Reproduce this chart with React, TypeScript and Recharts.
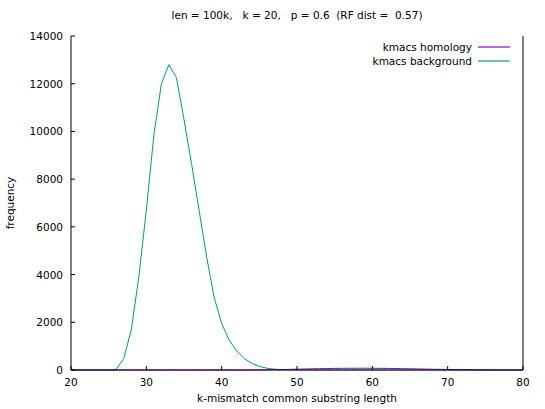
import React from 'react';
import { LineChart, Line, XAxis, YAxis } from 'recharts';

const lengths = [
  20, 21, 22, 23, 24, 25, 26, 27, 28, 29, 30, 31, 32, 33, 34, 35, 36, 37, 38, 39, 40,
  41, 42, 43, 44, 45, 46, 47, 48, 49, 50, 51, 52, 53, 54, 55, 56, 57, 58, 59, 60,
  61, 62, 63, 64, 65, 66, 67, 68, 69, 70, 71, 72, 73, 74, 75, 76, 77, 78, 79, 80,
];

const homology = [
  0, 0, 0, 0, 0, 0, 0, 0, 0, 0, 0, 0, 0, 0, 0, 0, 0, 0, 0, 0, 0,
  0, 0, 0, 0, 2, 5, 10, 18, 26, 34, 42, 50, 56, 62, 66, 70, 72, 73, 73, 72,
  70, 66, 62, 57, 51, 45, 39, 33, 27, 22, 17, 13, 10, 7, 5, 3, 2, 1, 0, 0,
];

const background = [
  0, 0, 0, 0, 0, 0, 30, 480, 1680, 3900, 6700, 9850, 12000, 12800, 12250, 10500, 8650, 6700, 4750, 3050, 1950,
  1250, 800, 480, 280, 150, 75, 35, 15, 8, 5, 4, 3, 3, 2, 2, 2, 1, 1, 1, 1,
  1, 1, 1, 1, 0, 0, 0, 0, 0, 0, 0, 0, 0, 0, 0, 0, 0, 0, 0, 0,
];

const xTicks = [20, 30, 40, 50, 60, 70, 80];
const yTicks = [0, 2000, 4000, 6000, 8000, 10000, 12000, 14000];

const title = 'len = 100k,   k = 20,   p = 0.6  (RF dist =  0.57)';
const xLabel = 'k-mismatch common substring length';
const yLabel = 'frequency';

const seriesNames = { homology: 'kmacs homology', background: 'kmacs background' };
const colors = { homology: '#9400d3', background: '#009e73' };

const data = lengths.map((x, i) => ({ x, homology: homology[i], background: background[i] }));

const FONT = '"DejaVu Sans", sans-serif';
const FS = 10.5;
const TICK = 4;

const BottomTick = (props: any) => {
  const { x, y, payload } = props;
  return (
    <g>
      <line x1={x} x2={x} y1={y} y2={y - TICK} stroke="#000" strokeWidth={1} />
      <text x={x} y={y + 12} textAnchor="middle" dominantBaseline="central" fontFamily={FONT} fontSize={FS} fill="#000">
        {payload.value}
      </text>
    </g>
  );
};

const LeftTick = (props: any) => {
  const { x, y, payload } = props;
  return (
    <g>
      <line x1={x} x2={x + TICK} y1={y} y2={y} stroke="#000" strokeWidth={1} />
      <text x={x - 8} y={y} textAnchor="end" dominantBaseline="central" fontFamily={FONT} fontSize={FS} fill="#000">
        {payload.value}
      </text>
    </g>
  );
};

const TopTick = (props: any) => {
  const { x, y } = props;
  return <line x1={x} x2={x} y1={y} y2={y + TICK} stroke="#000" strokeWidth={1} />;
};

const RightTick = (props: any) => {
  const { x, y } = props;
  return <line x1={x} x2={x - TICK} y1={y} y2={y} stroke="#000" strokeWidth={1} />;
};

const textStyle: React.CSSProperties = {
  position: 'absolute',
  fontFamily: FONT,
  fontSize: FS,
  color: '#000',
  whiteSpace: 'pre',
  lineHeight: 1,
};

export default function App() {
  return (
    <div style={{ position: 'absolute', left: 0, top: 0, width: 545, height: 409, background: '#fff' }}>
      <LineChart width={545} height={409} data={data} margin={{ top: 36, right: 0, bottom: 0, left: 0 }}>
        <XAxis
          dataKey="x"
          type="number"
          domain={[20, 80]}
          ticks={xTicks}
          height={39}
          tickLine={false}
          tickSize={0}
          tickMargin={0}
          axisLine={{ stroke: '#000' }}
          tick={<BottomTick />}
          interval={0}
        />
        <XAxis
          xAxisId="top"
          dataKey="x"
          type="number"
          orientation="top"
          domain={[20, 80]}
          ticks={xTicks}
          height={0}
          tickLine={false}
          tickSize={0}
          tickMargin={0}
          axisLine={{ stroke: '#000' }}
          tick={<TopTick />}
          interval={0}
        />
        <YAxis
          type="number"
          domain={[0, 14000]}
          ticks={yTicks}
          width={71}
          tickLine={false}
          tickSize={0}
          tickMargin={0}
          axisLine={{ stroke: '#000' }}
          tick={<LeftTick />}
          interval={0}
        />
        <YAxis
          yAxisId="right"
          orientation="right"
          type="number"
          domain={[0, 14000]}
          ticks={yTicks}
          width={22}
          tickLine={false}
          tickSize={0}
          tickMargin={0}
          axisLine={{ stroke: '#000' }}
          tick={<RightTick />}
          interval={0}
        />
        <Line
          dataKey="background"
          stroke={colors.background}
          strokeWidth={1}
          dot={false}
          type="linear"
          isAnimationActive={false}
        />
        <Line
          dataKey="homology"
          stroke={colors.homology}
          strokeWidth={1}
          dot={false}
          type="linear"
          isAnimationActive={false}
        />
      </LineChart>

      <div style={{ ...textStyle, left: 0, width: 594, top: 10, textAlign: 'center' }}>{title}</div>
      <div style={{ ...textStyle, left: 0, width: 594, top: 393, textAlign: 'center' }}>{xLabel}</div>
      <div
        style={{
          ...textStyle,
          left: 10,
          top: 203,
          transform: 'translate(-50%, -50%) rotate(-90deg)',
        }}
      >
        {yLabel}
      </div>

      {(['homology', 'background'] as const).map((key, i) => (
        <div key={key} style={{ position: 'absolute', top: 41 + i * 14, right: 545 - 510, height: 12, display: 'flex', alignItems: 'center' }}>
          <span style={{ ...textStyle, position: 'static' }}>{seriesNames[key]}</span>
          <svg width={32} height={12} style={{ marginLeft: 6, display: 'block' }}>
            <line x1={0} x2={32} y1={6} y2={6} stroke={colors[key]} strokeWidth={1.2} />
          </svg>
        </div>
      ))}
    </div>
  );
}
